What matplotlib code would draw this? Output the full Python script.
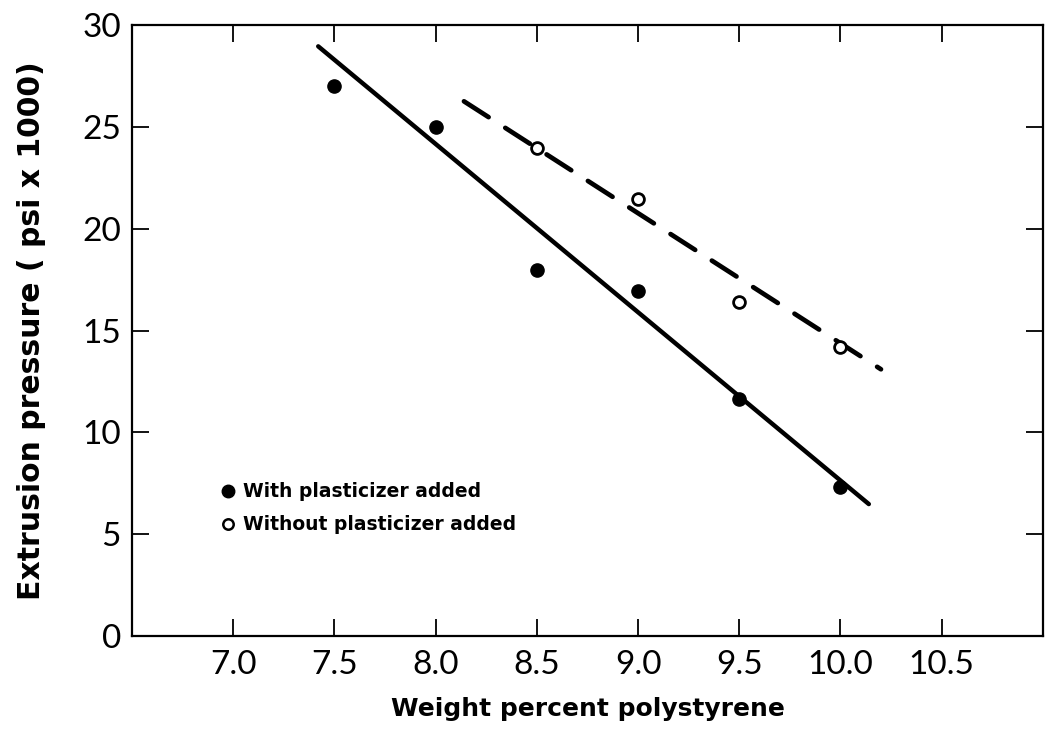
import matplotlib
matplotlib.use("Agg")
import matplotlib.pyplot as plt
from matplotlib.lines import Line2D

# ==============================
# Data
# ==============================
pct_with = [7.5, 8.0, 8.5, 9.0, 9.5, 10.0]
pressure_with = [27.0, 25.0, 18.0, 16.95, 11.65, 7.3]

pct_without = [8.5, 9.0, 9.5, 10.0]
pressure_without = [23.95, 21.45, 16.4, 14.2]

# hand-drawn fit lines (end points)
fit_with_x = [7.42, 10.14]
fit_with_y = [28.96, 6.48]
fit_without_x = [8.14, 10.20]
fit_without_y = [26.26, 13.1]

x_ticks = [7.0, 7.5, 8.0, 8.5, 9.0, 9.5, 10.0, 10.5]
x_tick_labels = ["7.0", "7.5", "8.0", "8.5", "9.0", "9.5", "10.0", "10.5"]
y_ticks = [0, 5, 10, 15, 20, 25, 30]

# ==============================
# Figure
# ==============================
fig = plt.figure(figsize=(10.45, 7.40), dpi=100)
ax = fig.add_axes([0.1263, 0.1405, 0.8717, 0.8255])

ax.plot(fit_with_x, fit_with_y, color="black", lw=3.2, solid_capstyle="round")
ax.plot(fit_without_x, fit_without_y, color="black", lw=3.4,
        dashes=(6.2, 4.2), dash_capstyle="round")

ax.plot(pct_with, pressure_with, "o", color="black", ms=9.5, zorder=3)
ax.plot(pct_without, pressure_without, "o", mfc="white", mec="black",
        mew=2.0, ms=8.5, zorder=3)

ax.set_xlim(6.5, 11.0)
ax.set_ylim(0, 30)
ax.set_xticks(x_ticks)
ax.set_xticklabels(x_tick_labels)
ax.set_yticks(y_ticks)

for lab in ax.get_xticklabels() + ax.get_yticklabels():
    lab.set_fontfamily("Lato")
    lab.set_fontsize(24)
    lab.set_color("black")

ax.tick_params(direction="in", length=12, width=1.3, top=True, right=True,
               labeltop=False, labelright=False, pad=10)
ax.tick_params(axis="y", pad=8)
for s in ax.spines.values():
    s.set_linewidth(1.6)

ax.set_xlabel("Weight percent polystyrene", fontsize=18, fontweight="bold",
              fontfamily="DejaVu Sans", labelpad=12)
ax.set_ylabel("Extrusion pressure ( psi x 1000)", fontsize=21.5,
              fontweight="bold", fontfamily="DejaVu Sans", labelpad=26)

handles = [
    Line2D([], [], ls="none", marker="o", color="black", ms=9),
    Line2D([], [], ls="none", marker="o", mfc="white", mec="black", mew=1.8, ms=7.5),
]
ax.legend(handles, ["With plasticizer added", "Without plasticizer added"],
          loc="center left", bbox_to_anchor=(0.079, 0.209), frameon=False,
          handlelength=0.8, handletextpad=0.4, labelspacing=0.75,
          prop={"family": "DejaVu Sans", "weight": "bold", "size": 13.5})

fig.savefig("out.png", dpi=100)
